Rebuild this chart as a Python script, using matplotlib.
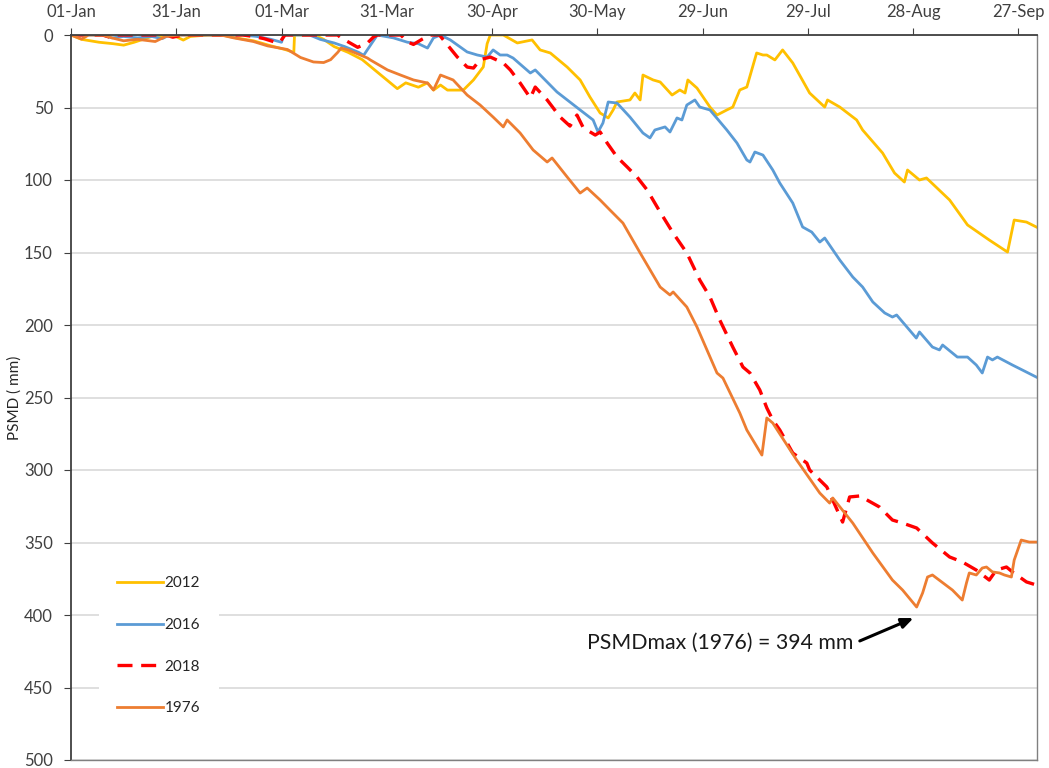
import matplotlib
matplotlib.use("Agg")
import matplotlib.pyplot as plt

plt.rcParams['font.family'] = ['Lato', 'DejaVu Sans']

# ---- data: (day of year, PSMD in mm) ----
tick_days = [1, 31, 61, 91, 121, 151, 181, 211, 241, 271]
tick_labels = ['01-Jan', '31-Jan', '01-Mar', '31-Mar', '30-Apr', '30-May',
               '29-Jun', '29-Jul', '28-Aug', '27-Sep']
y_ticks = [0, 50, 100, 150, 200, 250, 300, 350, 400, 450, 500]

psmd_2012 = [(1,0),(4,3),(9,5),(13,6),(16,7),(19,5),(24,1),(30,0),(33,3.5),(35,1),(40,0),(44,0),
             (48,2),(53,4),(58,7.5),(62,10),(64.5,12),(64.7,0),(70.4,0),(73,3),(76,8),(80,12),(84,17),
             (87,23),(90,29),(94,37),(96.4,33),(100,36),(102.6,33),(104.3,38),(106.3,34.5),(108.3,38),
             (112.8,38),(115.7,31),(118.5,22),(119.6,6),(120.5,0),(124.2,0),(128.2,5.5),(132.4,3.4),
             (134.7,10.3),(137.6,12.4),(142.4,22.1),(146.1,31),(148.9,42.8),(151.8,53.8),(154.1,57.2),
             (155.5,51.7),(156.6,46.2),(160.3,44.8),(161.7,40),(163.2,44.8),(164,27.6),(166.9,31),
             (168.9,32.4),(172.3,41.4),(174.5,37.9),(176,40),(176.8,31),(179.4,36.6),(183.1,49.7),
             (185.1,55.2),(187.9,51.7),(189.6,49.7),(191.6,37.9),(193.6,35.9),(196.4,12.4),(198.2,13.8),
             (199.3,13.8),(201.6,17.2),(203.8,10.3),(206.7,19.3),(211.5,40),(215.8,49.7),(216.6,44.8),
             (220.1,49.7),(224.9,58.6),(226.6,65.5),(232.3,81.4),(235.7,95.2),(238.5,101.4),(239.4,93.1),
             (242.8,100),(244.8,98.6),(251.4,113.8),(256.5,131),(262.7,141.4),(267.9,149.7),(269.8,127.6),
             (273.3,129),(276.1,132.4)]

psmd_2016 = [(1,0),(10,0),(12.7,2),(16,1),(20,2),(24,1),(27,2.5),(29,0),(40,0),(50,0),(54,1),(58,3),
             (61,5),(61.6,0),(69,0),(72,3),(76,5.5),(79,8),(83,12),(84.4,14),(88.3,0),(92.9,2),(96.9,5),
             (100,6),(102.6,9),(104.3,2),(106.3,0),(109.1,3.4),(113.9,11.7),(116.8,13.8),(119.6,15.2),
             (121.3,10.3),(123.3,13.8),(125.3,13.8),(127,15.9),(131.9,26.2),(133.3,24.1),(139.5,39.3),
             (146.1,51.7),(149.8,58.6),(151.2,66.9),(152.6,60.7),(154.1,46.2),(156.6,46.9),(160.3,56.6),
             (164,67.6),(166,71),(167.4,65.5),(170.3,63.4),(171.7,66.9),(173.7,57.2),(175.1,58.6),
             (176.5,48.3),(178.8,44.8),(180.2,49.7),(183.1,51.7),(187.9,65.5),(190.8,74.5),(193.6,86.2),
             (194.5,87.6),(195.9,80.7),(198.2,82.8),(201,93.1),(203,102.1),(206.7,115.9),(209.5,132.4),
             (212.1,135.9),(214.4,142.8),(215.8,140),(220.1,155.2),(223.8,166.9),(226.6,173.8),
             (229.5,184.1),(232.9,191.7),(235.1,194.5),(236.3,193.1),(241.9,209),(242.8,204.8),
             (246.5,215.2),(248.5,217.2),(249.4,213.8),(253.6,222.1),(256.5,222.1),(259,227.6),
             (260.7,233.1),(262.2,222.1),(263.6,224.1),(265,222.1),(269.3,227.6),(272.1,231),(276.1,235.9)]

psmd_2018 = [(1,0),(10,0),(12,1.5),(14,0),(28,0),(30,1.5),(33,0),(50,0),(53,1),(56,2.5),(59,4.8),
             (60.5,5),(62,0),(77,0),(78,2),(82.7,8.5),(85.5,5.5),(87.2,1.4),(88.3,0),(95,0),(96.9,4.8),
             (98.6,6.5),(101,3),(103.4,0),(106,0),(108,6),(111.1,15.2),(113.9,22.1),(115.7,22.8),
             (117.6,17),(120.5,15.2),(124.2,19.3),(126.2,24.1),(129,33.1),(131.9,43.4),(133.3,35.9),
             (136.7,44.8),(140.4,56.6),(143.2,62.8),(145.2,55.2),(147,64),(150.4,69),(151.8,66.9),
             (153.8,74.5),(156.6,84.1),(159.5,91),(162.3,97.9),(165.2,106.9),(168.9,122.1),(172.6,136.6),
             (176.5,150.3),(180.2,169),(183.1,180.7),(185.9,196.6),(189.6,215.2),(192.5,229),
             (194.5,233.1),(197.3,244.8),(199.3,257.2),(201,265.5),(203,272.4),(206.7,288.3),
             (210.7,295.2),(211.5,300),(216.4,311.7),(220.9,335.9),(222.9,318.6),(225.8,317.9),
             (231.4,325.5),(235.1,334.5),(238,336.6),(242,340),(246.5,350.3),(251.4,360),(255,363.4),
             (259,369),(262.7,375.9),(264.7,369),(267.6,366.9),(269.3,370.3),(273.3,377.2),(276.1,379.3)]

psmd_1976 = [(1,0),(4,2.8),(6,0),(10,0),(12.7,2),(16,4),(20,3),(25,4.5),(28,1),(32,0),(43.7,0),
             (47.4,2),(53,4.5),(57,7.5),(62.7,10),(66.4,15.5),(70.1,18.6),(73,19),(75,17),(77,12),(78,9),
             (80,10.3),(85.5,15.9),(86.3,17.2),(91.2,24.1),(94.9,27.6),(98.6,31),(102.6,33.1),
             (104.3,37.9),(106.3,27.6),(109.9,31),(113.9,41.4),(117.6,48.3),(121.3,56.6),(124.2,63.4),
             (125.3,58.6),(129,67.6),(132.7,79.3),(136.7,87.6),(138.1,84.8),(142.4,97.9),(146.1,109),
             (148.1,105.5),(151.8,113.8),(154.6,120.7),(158.3,129.7),(163.2,150.3),(168.9,173.8),
             (171.7,179.3),(172.6,177.2),(176.5,187.6),(179.4,201.4),(185.1,233.1),(186.8,236.6),
             (191.6,260.7),(193.6,272.4),(197.9,289.7),(199.3,264.1),(201,267.6),(207.8,293.1),
             (214.4,315.9),(217.2,322.8),(218.1,319.3),(223.8,336.6),(229.5,357.2),(235.1,375.9),
             (238,382.8),(242,394.5),(243.7,384.8),(245.1,373.8),(246.5,372.4),(252.2,382.8),(255,389.7),
             (256.2,377.9),(257,371),(259,372.4),(260.7,367.6),(261.9,366.9),(263.6,370.3),(265.6,371),
             (267,372.4),(269,373.8),(269.8,362.1),(271.8,348.3),(274.1,349.7),(276.1,349.7)]

series_names = ['2012', '2016', '2018', '1976']
series_data = [psmd_2012, psmd_2016, psmd_2018, psmd_1976]
series_colors = ['#FFC000', '#5B9BD5', '#FF0000', '#ED7D31']

annotation_text = 'PSMDmax (1976) = 394 mm'

# ---- figure ----
W, H = 1049, 768
fig = plt.figure(figsize=(W / 100, H / 100), dpi=100)
ax = fig.add_axes([71 / W, 1 - 760 / H, (1037 - 71) / W, (760 - 35) / H])

for name, data, col in zip(series_names, series_data, series_colors):
    xs = [p[0] for p in data]
    ys = [p[1] for p in data]
    if name == '2018':
        ax.plot(xs, ys, color=col, lw=2.4, linestyle=(0, (4.5, 2.6)), label=name,
                solid_joinstyle='round', dash_capstyle='butt')
    else:
        ax.plot(xs, ys, color=col, lw=2.0, label=name, solid_joinstyle='round')

ax.set_xlim(1, 276.3)
ax.set_ylim(500, 0)
ax.set_yticks(y_ticks)
ax.set_xticks(tick_days)
ax.set_xticklabels(tick_labels)
ax.xaxis.tick_top()

ax.yaxis.grid(True, color='#D9D9D9', lw=1.2)
ax.set_axisbelow(True)

for s in ['left', 'top']:
    ax.spines[s].set_color('#404040')
    ax.spines[s].set_linewidth(1.3)
for s in ['right', 'bottom']:
    ax.spines[s].set_color('#808080')
    ax.spines[s].set_linewidth(1.0)

ax.tick_params(axis='y', direction='out', length=5, color='#404040', labelsize=12,
               labelcolor='#404040', pad=8)
ax.tick_params(axis='x', direction='out', length=5, color='#404040', labelsize=12,
               labelcolor='#404040', pad=6, top=True, bottom=False)

ax.set_ylabel('PSMD ( mm)', fontsize=11, color='#262626')
ax.yaxis.set_label_coords(-0.051, 0.5)

leg = ax.legend(loc='upper left', bbox_to_anchor=(0.029, 0.279), borderaxespad=0,
                frameon=True, facecolor='white', edgecolor='none', framealpha=1,
                fontsize=11, labelspacing=1.82, handlelength=3.0, handletextpad=0.1,
                borderpad=1.2, fancybox=False)
for t in leg.get_texts():
    t.set_color('#262626')

ax.text(223.9, 419.3, annotation_text, ha='right', va='center', fontsize=15.3, color='#1a1a1a')
ax.annotate('', xy=(241.1, 402.1), xytext=(225.8, 417.9),
            arrowprops=dict(arrowstyle='-|>,head_length=0.7,head_width=0.3', color='black', lw=2.2,
                            shrinkA=0, shrinkB=0))

fig.savefig('out.png', dpi=100)
